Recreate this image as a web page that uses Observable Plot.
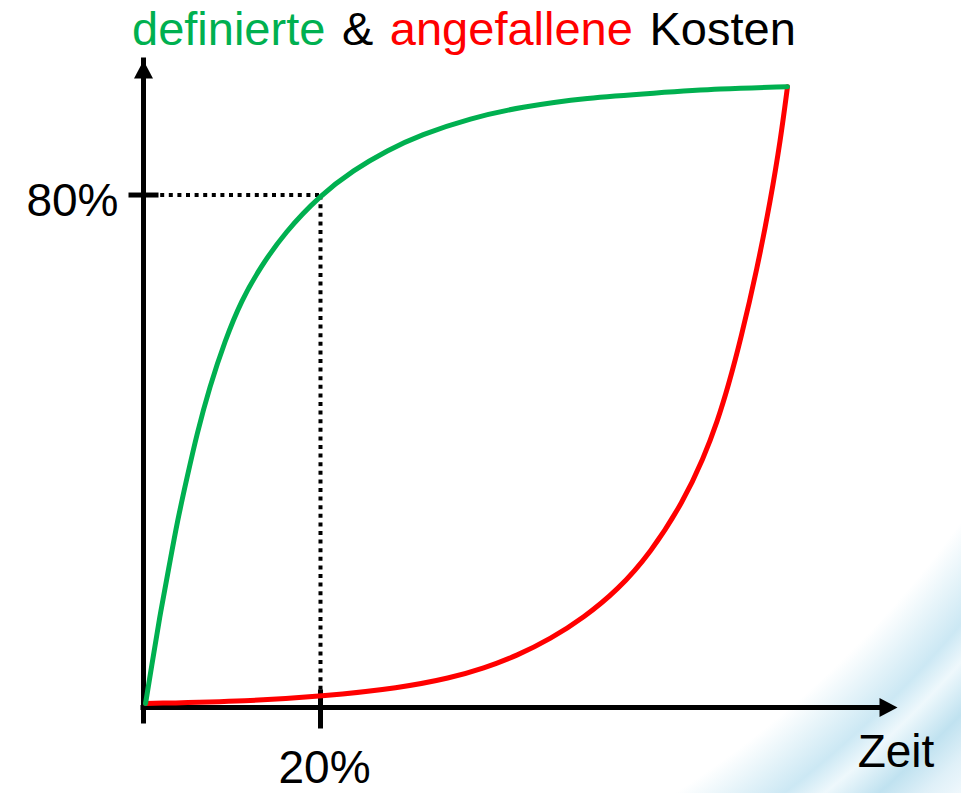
<!DOCTYPE html>
<html>
<head>
<meta charset="utf-8">
<script src="https://cdn.jsdelivr.net/npm/d3@7"></script>
<script src="https://cdn.jsdelivr.net/npm/@observablehq/plot@0.6"></script>
<style>
html, body { margin: 0; padding: 0; }
body {
  width: 961px; height: 793px; overflow: hidden;
  font-family: "Liberation Sans", Arial, sans-serif;
  background: radial-gradient(circle at 100px -100px, #ffffff 0px, #ffffff 1062px, #e4f3f9 1095px, #cce8f4 1125px, #eef8fc 1150px, #c0e2f0 1185px, #dff0f8 1215px, #f2f9fd 1245px);
}
#title {
  height: 56px; box-sizing: border-box; padding: 5px 0 0 132px;
  font-size: 47px; line-height: 47px; word-spacing: 3.5px; white-space: nowrap; color: #000;
}
</style>
</head>
<body>
<div id="title"><span style="color:#00B050">definierte</span> &amp; <span style="color:#FF0000">angefallene</span> Kosten</div>
<div id="chart"></div>
<script>
// --- data (Zeit in %, Kosten in %) ---
const definiertX = [0.23, 0.90, 1.81, 2.88, 3.84, 4.92, 6.05, 7.46, 9.21, 11.07, 13.22, 15.93, 20, 23.73, 27.57, 31.3, 36.95, 42.6, 50.17, 57.63, 65.2, 72.77];
const definiertY = [0.62, 6.25, 14.06, 21.9, 29.2, 35.9, 42.8, 50.0, 57.3, 63.6, 68.75, 74.1, 80, 83.9, 87.0, 89.4, 92.0, 93.75, 95.2, 95.9, 96.6, 96.9];
const angefallenX = [0.23, 12.09, 20, 29.04, 34.69, 38.42, 42.26, 45.99, 49.72, 53.56, 57.29, 61.02, 63.28, 64.86, 66.1, 67.46, 69.38, 70.85, 71.98, 72.77];
const angefallenY = [0.62, 1.02, 1.72, 3.05, 4.61, 6.09, 8.12, 10.7, 14.0, 18.3, 24.1, 32.2, 38.9, 44.7, 50.3, 57.3, 68.75, 79.2, 88.6, 96.9];
const xTicks = [20];
const xTickLabels = ["20%"];
const yTicks = [80];
const yTickLabels = ["80%"];
const xAxisLabel = "Zeit";
const xEnd = 85.2;   // end of the Zeit axis (arrow tip)
const yEnd = 101;    // end of the Kosten axis (arrow tip)

const green = "#00B050";
const red = "#FF0000";

const definiert = definiertX.map((x, i) => ({x, y: definiertY[i]}));
const angefallen = angefallenX.map((x, i) => ({x, y: angefallenY[i]}));
const xTickData = xTicks.map((v, i) => ({v, label: xTickLabels[i]}));
const yTickData = yTicks.map((v, i) => ({v, label: yTickLabels[i]}));

// custom symbols
const arrowHead = { draw(ctx) { ctx.moveTo(0, 0); ctx.lineTo(-9.5, 18); ctx.lineTo(9.5, 18); ctx.closePath(); } };
const hTick = { draw(ctx) { ctx.moveTo(-15, 0); ctx.lineTo(15, 0); } };
const vTick = { draw(ctx) { ctx.moveTo(0, -18); ctx.lineTo(0, 21); } };

const font = "'Liberation Sans', Arial, sans-serif";

const chart = Plot.plot({
  width: 961,
  height: 737,
  marginLeft: 143,
  marginRight: 64,
  marginTop: 4,
  marginBottom: 86,
  style: { background: "transparent", overflow: "visible" },
  x: { domain: [0, xEnd], axis: null },
  y: { domain: [0, yEnd], axis: null },
  marks: [
    // dotted guide lines
    Plot.ruleY(yTickData, { y: "v", x1: 0, x2: () => xTicks[0], stroke: "#000", strokeWidth: 4, strokeDasharray: "4,4.6" }),
    Plot.ruleX(xTickData, { x: "v", y1: 0, y2: () => yTicks[0], stroke: "#000", strokeWidth: 4, strokeDasharray: "4,4.6" }),
    // axes
    Plot.ruleX([0], { y1: 0, y2: yEnd, insetTop: 14, stroke: "#000", strokeWidth: 5, strokeLinecap: "square" }),
    Plot.ruleY([0], { x1: 0, x2: xEnd, insetRight: 14, stroke: "#000", strokeWidth: 5, strokeLinecap: "square" }),
    Plot.dot([{x: 0, y: yEnd}], { x: "x", y: "y", symbol: arrowHead, r: 5, fill: "#000", stroke: "none" }),
    Plot.dot([{x: xEnd, y: 0}], { x: "x", y: "y", symbol: arrowHead, r: 5, fill: "#000", stroke: "none", rotate: 90 }),
    // ticks
    Plot.dot(yTickData, { x: 0, y: "v", symbol: hTick, r: 5, fill: "none", stroke: "#000", strokeWidth: 5 }),
    Plot.dot(xTickData, { x: "v", y: 0, symbol: vTick, r: 5, fill: "none", stroke: "#000", strokeWidth: 5 }),
    // tick labels
    Plot.text(yTickData, { x: 0, y: "v", text: "label", textAnchor: "end", dx: -25, dy: 6, fontSize: 46, fontFamily: font, fill: "#000" }),
    Plot.text(xTickData, { x: "v", y: 0, text: "label", textAnchor: "middle", dx: 4, dy: 61, fontSize: 46, fontFamily: font, fill: "#000" }),
    Plot.text([xAxisLabel], { x: xEnd, y: 0, text: d => d, textAnchor: "middle", dx: -1.5, dy: 45, fontSize: 46, fontFamily: font, fill: "#000" }),
    // curves
    Plot.line(angefallen, { x: "x", y: "y", stroke: red, strokeWidth: 5, curve: "basis" }),
    Plot.line(definiert, { x: "x", y: "y", stroke: green, strokeWidth: 5, curve: "basis" })
  ]
});
document.getElementById("chart").appendChild(chart);
</script>
</body>
</html>
